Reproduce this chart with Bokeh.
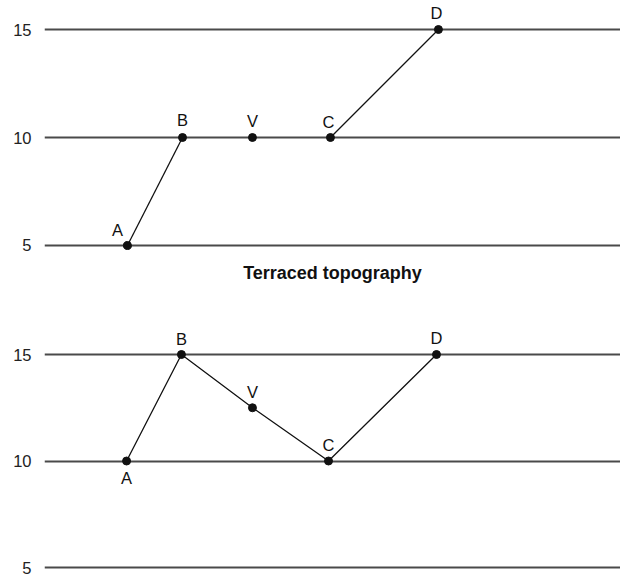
from bokeh.plotting import figure
from bokeh.models import Range1d, FixedTicker, ColumnDataSource, Title
from bokeh.layouts import column
from bokeh.embed import file_html
from bokeh.resources import INLINE
from bokeh.core.properties import value

# ---- data ----
levels = [5, 10, 15]

top_names = ["A", "B", "V", "C", "D"]
top_x = [3.84, 6.39, 9.63, 13.24, 18.24]
top_y = [5, 10, 10, 10, 15]
top_links = [(0, 1), (3, 4)]  # A-B and C-D

bot_names = ["A", "B", "V", "C", "D"]
bot_x = [3.80, 6.34, 9.63, 13.15, 18.15]
bot_y = [10, 15, 12.5, 10, 15]

title_text = "Terraced topography"

# ---- styles ----
FONT = "Liberation Sans"
top_xoff = [-10, 0, 0, -2, -2]
top_yoff = [-15, -18, -17, -16, -17]
bot_xoff = [0, 0, 0, 0, 0]
bot_yoff = [17, -16, -16, -16, -17]


def base_fig(height, y0, y1, **kw):
    p = figure(width=620, height=height, output_backend="svg", toolbar_location=None,
               x_range=Range1d(0, 26.67), y_range=Range1d(y0, y1),
               x_axis_location=None, title_location=None,
               min_border_left=44, min_border_right=0, **kw)
    p.outline_line_color = None
    p.xgrid.visible = False
    p.yaxis.ticker = FixedTicker(ticks=levels)
    p.yaxis.axis_line_color = None
    p.yaxis.major_tick_line_color = None
    p.yaxis.minor_tick_line_color = None
    p.yaxis.major_tick_in = 0
    p.yaxis.major_tick_out = 0
    p.yaxis.minor_tick_out = 0
    p.yaxis.major_label_standoff = 13
    p.yaxis.major_label_text_font = FONT
    p.yaxis.major_label_text_font_size = "16.5px"
    p.yaxis.major_label_text_color = "#222222"
    p.ygrid.ticker = FixedTicker(ticks=levels)
    p.ygrid.grid_line_color = "#4a4a4a"
    p.ygrid.grid_line_width = 2
    p.ygrid.grid_line_alpha = 1
    return p


# ---- top panel (with the caption below it) ----
p1 = base_fig(295, 4.537, 16.343, min_border_top=0, min_border_bottom=40)
seg = ColumnDataSource(dict(
    x0=[top_x[a] for a, b in top_links], y0=[top_y[a] for a, b in top_links],
    x1=[top_x[b] for a, b in top_links], y1=[top_y[b] for a, b in top_links]))
p1.segment("x0", "y0", "x1", "y1", source=seg, line_color="#111111", line_width=1.3)
src1 = ColumnDataSource(dict(x=top_x, y=top_y, t=top_names, xo=top_xoff, yo=top_yoff))
p1.scatter("x", "y", source=src1, size=8, color="#111111")
p1.text("x", "y", text="t", source=src1, x_offset="xo", y_offset="yo",
        text_align="center", text_baseline="alphabetic",
        text_font=value(FONT), text_font_size="16.5px", text_color="#111111")
p1.add_layout(Title(text=title_text, align="center", text_font=FONT,
                    text_font_size="18px", text_font_style="bold",
                    text_color="#111111", standoff=10), "below")

# ---- bottom panel ----
p2 = base_fig(282, 4.531, 16.315, min_border_top=31, min_border_bottom=0)
src2 = ColumnDataSource(dict(x=bot_x, y=bot_y, t=bot_names, xo=bot_xoff, yo=bot_yoff))
p2.line("x", "y", source=src2, line_color="#111111", line_width=1.3)
p2.scatter("x", "y", source=src2, size=8, color="#111111")
p2.text("x", "y", text="t", source=src2, x_offset="xo", y_offset="yo",
        text_align="center", text_baseline="alphabetic",
        text_font=value(FONT), text_font_size="16.5px", text_color="#111111")

layout = column(p1, p2, spacing=0)
open("out.html", "w").write(file_html(layout, INLINE))
